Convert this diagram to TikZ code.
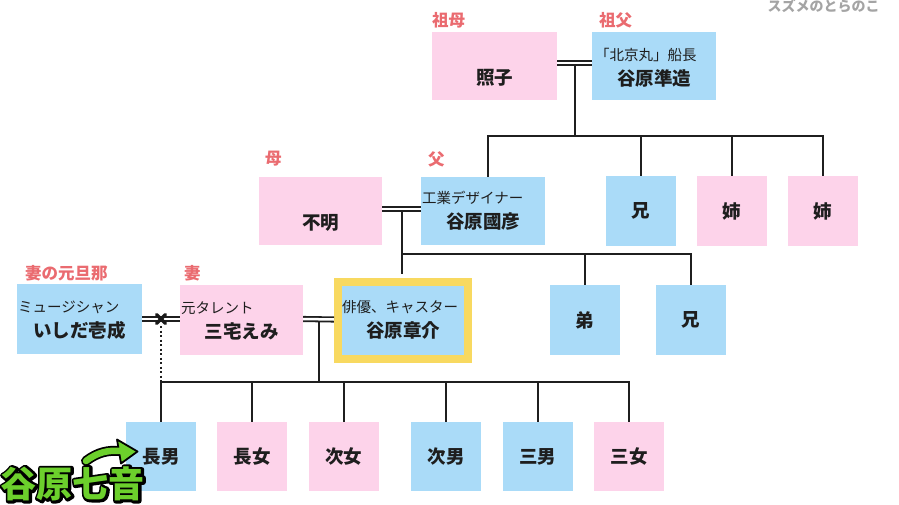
\documentclass[tikz,border=0pt]{standalone}
\usepackage{fontspec}
\setmainfont{Noto Sans CJK JP}
\usetikzlibrary{calc}
\definecolor{pinkbox}{HTML}{FDD3EA}
\definecolor{bluebox}{HTML}{AADBF8}
\definecolor{goldline}{HTML}{F8D960}
\definecolor{lblred}{HTML}{EA6B70}
\definecolor{namedark}{HTML}{1E1E1E}
\definecolor{nanagreen}{HTML}{6CD02C}
\definecolor{wmgray}{HTML}{A4A4A4}
\tikzset{
  box/.style={rectangle, inner sep=0pt, minimum height=68pt, text=namedark,
    font=\fontsize{18.5}{20}\selectfont\bfseries},
  pbox/.style={box, fill=pinkbox},
  bbox/.style={box, fill=bluebox},
  nm/.style={font=\fontsize{18.5}{20}\selectfont\bfseries, text=namedark, inner sep=0pt},
  subt/.style={font=\fontsize{14.5}{16}\selectfont, text=namedark, inner sep=0pt, anchor=west},
  lbl/.style={font=\fontsize{16.5}{18}\selectfont\bfseries, text=lblred, inner sep=0pt, anchor=west},
  ln/.style={line width=2pt, draw=black!88, line join=miter},
  marr/.style={line width=1.8pt, draw=black!88, double=white, double distance=2.5pt},
  gtxt/.style={font=\fontsize{36}{38}\selectfont\bfseries, inner sep=0pt},
}
\begin{document}
\begin{tikzpicture}[x=1pt, y=-1pt]
\path[use as bounding box] (0,0) rectangle (899,505);

% watermark
\node[font=\fontsize{14}{14}\selectfont\bfseries, text=wmgray, inner sep=0pt] (wm) at (823.5,6) {スズメのとらのこ};

% ---------- row 1 ----------
\node[pbox, minimum width=125pt] (teruko) at (494.5,66) {};
\node[bbox, minimum width=124pt] (junzo) at (654,66) {};
\node[nm] (terukoN) at (494.5,78) {照子};
\node[nm] (junzoN) at (654,78) {谷原準造};
\node[subt] (junzoS) at (595,55) {「北京丸」船長};
\node[lbl] (sobo) at (432,20) {祖母};
\node[lbl] (sofu) at (599,20) {祖父};

% ---------- row 2 ----------
\node[pbox, minimum width=123pt] (fumei) at (320.5,211) {};
\node[bbox, minimum width=124pt] (kunihiko) at (483,211) {};
\node[nm] (fumeiN) at (320.5,223) {不明};
\node[nm] (kunihikoN) at (483,222) {谷原國彦};
\node[subt] (kunihikoS) at (422,198) {工業デザイナー};
\node[lbl] (haha) at (265,159) {母};
\node[lbl] (chichi) at (428,159) {父};
\node[bbox, minimum width=70pt, minimum height=70pt] (ani1) at (640.5,211) {兄};
\node[pbox, minimum width=70pt, minimum height=70pt] (ane1) at (732,211) {姉};
\node[pbox, minimum width=70pt, minimum height=70pt] (ane2) at (823,211) {姉};

% ---------- row 3 ----------
\node[bbox, minimum width=125pt, minimum height=70pt] (ishida) at (79.5,319) {};
\node[pbox, minimum width=123pt, minimum height=70pt] (miyake) at (241.5,320) {};
\node[bbox, draw=goldline, line width=8pt, minimum width=130pt, minimum height=77pt] (shosuke) at (403,320.5) {};
\node[nm] (ishidaN) at (79.5,330) {いしだ壱成};
\node[subt] (ishidaS) at (18,307) {ミュージシャン};
\node[nm] (miyakeN) at (241.5,331) {三宅えみ};
\node[subt] (miyakeS) at (181,308) {元タレント};
\node[nm] (shosukeN) at (403,330) {谷原章介};
\node[subt] (shosukeS) at (342,307) {俳優、キャスター};
\node[lbl] (motodanna) at (25,273) {妻の元旦那};
\node[lbl] (tsuma) at (184,273) {妻};
\node[bbox, minimum width=70pt, minimum height=70pt] (otouto) at (585,320) {弟};
\node[bbox, minimum width=70pt, minimum height=70pt] (ani2) at (691,320) {兄};

% ---------- row 4 ----------
\tikzset{kid/.style={minimum width=70pt, minimum height=69pt}}
\node[bbox, kid] (chonan) at (161,456.5) {長男};
\node[pbox, kid] (chojo) at (252,456.5) {長女};
\node[pbox, kid] (jijo) at (343.5,456.5) {次女};
\node[bbox, kid] (jinan) at (446,456.5) {次男};
\node[bbox, kid] (sannan) at (537.5,456.5) {三男};
\node[pbox, kid] (sanjo) at (629,456.5) {三女};

% ---------- bars ----------
\coordinate (bar1) at (0,136.5);
\coordinate (bar2) at (0,254);
\coordinate (bar3) at (0,382);
\coordinate (shtop) at ([yshift=4pt]shosuke.north);

% grandparents
\draw[marr] ([yshift=3pt]teruko.east) -- coordinate (m1) ([yshift=3pt]junzo.west);
\draw[ln] ([yshift=-2pt]m1) -- (m1 |- bar1);
\draw[ln] ([xshift=5pt]kunihiko.north) -- ([xshift=5pt]kunihiko.north |- bar1) -- (ane2.north |- bar1) -- (ane2.north);
\draw[ln] (ani1.north |- bar1) -- (ani1.north);
\draw[ln] (ane1.north |- bar1) -- (ane1.north);

% parents
\draw[marr] ([yshift=2pt]fumei.east) -- coordinate (m2) ([yshift=2pt]kunihiko.west);
\draw[ln] ([yshift=-2pt]m2) -- (m2 |- shtop);
\draw[ln] (m2 |- bar2) -- (ani2.north |- bar2) -- (ani2.north);
\draw[ln] (otouto.north |- bar2) -- (otouto.north);

% Shosuke & Miyake
\draw[marr] ([yshift=1pt]miyake.east) -- coordinate (m3) ([yshift=1pt]shosuke.west);
\draw[ln] ([yshift=-2pt]m3) -- (m3 |- bar3);
\draw[ln] (chonan.north) -- (chonan.north |- bar3) -- (sanjo.north |- bar3) -- (sanjo.north);
\foreach \k in {chojo, jijo, jinan, sannan}
  \draw[ln] (\k.north |- bar3) -- (\k.north);

% divorced couple
\draw[marr] (ishida.east) -- coordinate (m4) (miyake.west |- ishida.east);
\draw[line width=3.2pt, line cap=round, black!90] ([shift={(-4.5,-4.5)}]m4) -- ([shift={(4.5,4.5)}]m4);
\draw[line width=3.2pt, line cap=round, black!90] ([shift={(-4.5,4.5)}]m4) -- ([shift={(4.5,-4.5)}]m4);
\draw[line width=1.8pt, black!88, dash pattern=on 2pt off 2.5pt] ([yshift=-7pt]m4) -- (m4 |- bar3);

% ---------- green annotation ----------
\coordinate (tailA) at (86,461);
\coordinate (tailB) at (121,451);
\draw[line width=10pt, black, line cap=round] (tailA) .. controls (98,452) and (108,450) .. (tailB);
\filldraw[fill=nanagreen, draw=black, line width=1.8pt, line join=round] (117,439.5) -- (137.5,451.5) -- (121,463.5) -- cycle;
\draw[line width=6.5pt, nanagreen, line cap=round] (tailA) .. controls (98,452) and (108,450) .. (tailB);

\node[gtxt, text=nanagreen] (nanao) at (73,484)
  {\rlap{\color{black}\special{pdf:literal direct 2 Tr 5 w 1 j 0 0 0 RG}谷原七音\special{pdf:literal direct 0 Tr 1 w}}谷原七音};
\end{tikzpicture}
\end{document}
